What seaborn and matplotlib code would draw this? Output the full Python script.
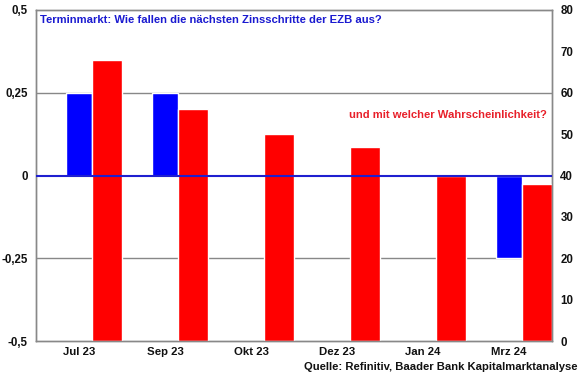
import numpy as np
import pandas as pd
import matplotlib
matplotlib.use("Agg")
import matplotlib.pyplot as plt
import seaborn as sns

# Data
months = ["Jul 23", "Sep 23", "Okt 23", "Dez 23", "Jan 24", "Mrz 24"]
zinsschritt = [0.25, 0.25, 0.0, 0.0, 0.0, -0.25]      # left axis (Prozentpunkte)
wahrscheinlichkeit = [68, 56, 50, 47, 39.8, 38]        # right axis (%)

left_ticks = [-0.5, -0.25, 0, 0.25, 0.5]
left_labels = ["-0,5", "-0,25", "0", "0,25", "0,5"]
right_ticks = [0, 10, 20, 30, 40, 50, 60, 70, 80]

sns.set_style("white")
plt.rcParams["font.family"] = ["Liberation Sans", "DejaVu Sans"]
plt.rcParams["font.weight"] = "bold"

df = pd.DataFrame({"monat": months, "zins": zinsschritt, "prob": wahrscheinlichkeit})
x = np.arange(len(months))

fig, ax = plt.subplots(figsize=(5.8, 3.75), dpi=100)
fig.subplots_adjust(left=36 / 580, right=552 / 580, top=1 - 10 / 375, bottom=1 - 341 / 375)

# blue bars on the primary axis, centred on the category
sns.barplot(data=df, x="monat", y="zins", color="#0000ff", width=0.31,
            saturation=1, ax=ax, zorder=2)
ax.set_xlim(-0.5, len(months) - 0.5)
ax.set_ylim(-0.5, 0.5)
ax.set_yticks(left_ticks)
ax.set_yticklabels(left_labels)
ax.set_xlabel("")
ax.set_ylabel("")
for y in (-0.25, 0.25):
    ax.axhline(y, color="#888888", lw=1, zorder=0)

# red bars on the secondary axis, right of the blue ones
ax2 = ax.twinx()
ax2.bar(x + 0.33, df["prob"], width=0.35, color="#ff0000", zorder=2)
ax2.set_ylim(0, 80)
ax2.set_yticks(right_ticks)
ax2.axhline(40, color="#1f1fd0", lw=1.5, zorder=3)

for a in (ax, ax2):
    for s in a.spines.values():
        s.set_color("#888888")
        s.set_linewidth(1)

ax.tick_params(axis="y", length=0, pad=6, labelsize=8.3, colors="#111111")
ax2.tick_params(axis="y", length=0, pad=6, labelsize=8.3, colors="#111111")
ax.tick_params(axis="x", which="major", length=0, pad=4, labelsize=8.2, colors="#111111")
ax.set_xticks(np.arange(len(months) + 1) - 0.5, minor=True)
ax.tick_params(axis="x", which="minor", length=4, color="#888888", direction="out")

ax.text(0.008, 0.985, "Terminmarkt: Wie fallen die nächsten Zinsschritte der EZB aus?",
        transform=ax.transAxes, ha="left", va="top", color="#1a1ad0",
        fontsize=8.1, fontweight="bold")
ax.text(0.99, 0.683, "und mit welcher Wahrscheinlichkeit?",
        transform=ax.transAxes, ha="right", va="center", color="#e8202a",
        fontsize=8.1, fontweight="bold")
fig.text(577 / 580, 1 - 367 / 375, "Quelle: Refinitiv, Baader Bank Kapitalmarktanalyse",
         ha="right", va="center", color="#111111", fontsize=8.1, fontweight="bold")

fig.savefig("out.png", dpi=100)
